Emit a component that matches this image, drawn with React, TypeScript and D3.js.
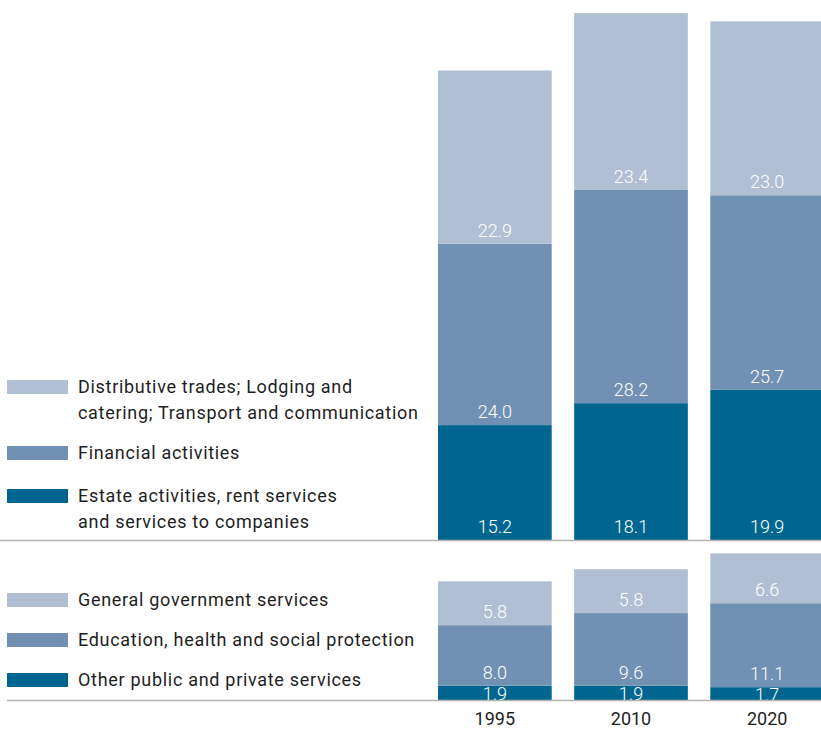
import React, { useEffect, useRef } from 'react';
import * as d3 from 'd3';

const years = ['1995', '2010', '2020'];

// upper panel (market services)
const upperSeries = [
  'Estate activities, rent services\nand services to companies',
  'Financial activities',
  'Distributive trades; Lodging and\ncatering; Transport and communication',
];
const estateValues = [15.2, 18.1, 19.9];
const financialValues = [24.0, 28.2, 25.7];
const tradeValues = [22.9, 23.4, 23.0];

// lower panel (non-market services)
const lowerSeries = [
  'Other public and private services',
  'Education, health and social protection',
  'General government services',
];
const otherValues = [1.9, 1.9, 1.7];
const educationValues = [8.0, 9.6, 11.1];
const governmentValues = [5.8, 5.8, 6.6];

const colors = ['#00668f', '#7091b3', '#b0bfd3'];

const WIDTH = 821;
const HEIGHT = 729;
const FONT = 'Roboto, "DejaVu Sans", sans-serif';

export default function App() {
  const svgRef = useRef<SVGSVGElement>(null);

  useEffect(() => {
    if (!svgRef.current) return;
    const svg = d3.select(svgRef.current);
    svg.selectAll('*').remove();

    const x = d3.scaleBand<string>()
      .domain(years)
      .range([438, 824])
      .paddingInner(0.165)
      .paddingOuter(0);

    // px per unit is shared by both panels
    const unit = 7.56;

    const drawPanel = (
      base: number,
      series: string[],
      values: number[][],
      legendY: number[],
      lineX0: number,
    ) => {
      const maxTotal = d3.max(years.map((_, i) => d3.sum(values, v => v[i]))) || 0;
      const y = d3.scaleLinear().domain([0, maxTotal]).range([base, base - maxTotal * unit]);

      const rows = years.map((yr, i) => {
        const row: Record<string, number | string> = { year: yr };
        series.forEach((s, k) => { row[s] = values[k][i]; });
        return row;
      });
      const stacked = d3.stack<Record<string, number | string>>().keys(series)(rows as any);

      const g = svg.append('g');
      stacked.forEach((layer, k) => {
        g.selectAll(null)
          .data(layer)
          .enter()
          .append('rect')
          .attr('x', d => x(String(d.data.year))!)
          .attr('width', x.bandwidth())
          .attr('y', d => y(d[1]))
          .attr('height', d => y(d[0]) - y(d[1]))
          .attr('fill', colors[k]);
      });

      stacked.forEach(layer => {
        g.selectAll(null)
          .data(layer)
          .enter()
          .append('text')
          .attr('x', d => x(String(d.data.year))! + x.bandwidth() / 2)
          .attr('y', d => {
            const h = y(d[0]) - y(d[1]);
            // thin segments get their label centred
            return h < 25 ? (y(d[0]) + y(d[1])) / 2 + 7 : y(d[0]) - 7;
          })
          .attr('text-anchor', 'middle')
          .attr('fill', '#fff')
          .attr('font-family', FONT)
          .attr('font-weight', 300)
          .attr('font-size', 18)
          .text(d => (d[1] - d[0]).toFixed(1));
      });

      // baseline
      svg.append('line')
        .attr('x1', lineX0)
        .attr('x2', WIDTH)
        .attr('y1', base + 0.5)
        .attr('y2', base + 0.5)
        .attr('stroke', '#b4b4b4')
        .attr('stroke-width', 1.5);

      // legend
      const lg = svg.append('g');
      series.forEach((s, k) => {
        const cy = legendY[k];
        lg.append('rect')
          .attr('x', 7)
          .attr('y', cy - 7)
          .attr('width', 61)
          .attr('height', 14)
          .attr('fill', colors[k]);
        const t = lg.append('text')
          .attr('x', 78)
          .attr('y', cy + 6)
          .attr('fill', '#1e1e1e')
          .attr('font-family', FONT)
          .attr('font-size', 18)
          .attr('letter-spacing', 0.7);
        s.split('\n').forEach((line, li) => {
          t.append('tspan').attr('x', 78).attr('dy', li === 0 ? 0 : 26).text(line);
        });
      });
    };

    drawPanel(540, upperSeries, [estateValues, financialValues, tradeValues], [496, 453, 387], 0);
    drawPanel(700, lowerSeries, [otherValues, educationValues, governmentValues], [680, 640, 600], 7);

    // year labels
    svg.append('g')
      .selectAll('text')
      .data(years)
      .enter()
      .append('text')
      .attr('x', d => x(d)! + x.bandwidth() / 2)
      .attr('y', 725)
      .attr('text-anchor', 'middle')
      .attr('fill', '#1e1e1e')
      .attr('font-family', FONT)
      .attr('font-size', 18)
      .text(d => d);
  }, []);

  return (
    <svg
      ref={svgRef}
      width={WIDTH}
      height={HEIGHT}
      style={{ position: 'absolute', left: 0, top: 0, background: '#fff' }}
    />
  );
}
